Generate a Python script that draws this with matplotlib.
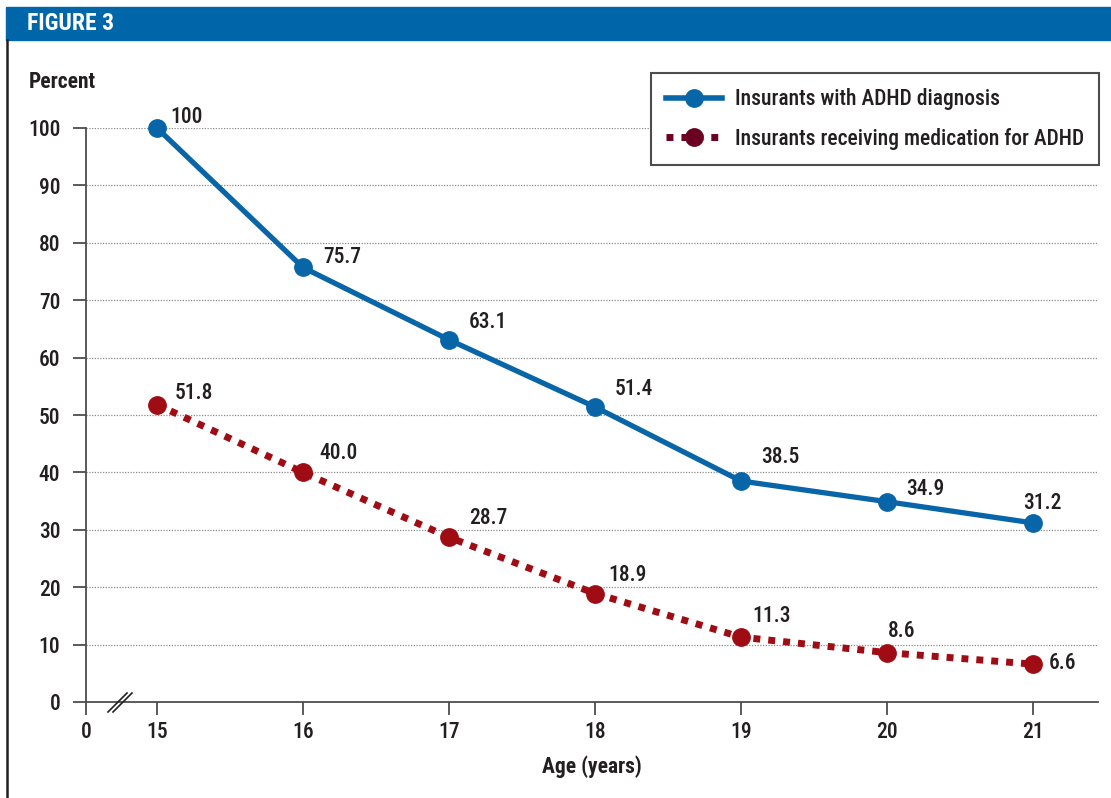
import matplotlib.pyplot as plt
from matplotlib.lines import Line2D
from matplotlib.patches import Rectangle

plt.rcParams['font.family'] = ['Roboto Condensed', 'Liberation Sans Narrow', 'Roboto', 'DejaVu Sans']

ages = [15, 16, 17, 18, 19, 20, 21]
diagnosis = [100, 75.7, 63.1, 51.4, 38.5, 34.9, 31.2]
medication = [51.8, 40.0, 28.7, 18.9, 11.3, 8.6, 6.6]
diag_labels = ["100", "75.7", "63.1", "51.4", "38.5", "34.9", "31.2"]
med_labels = ["51.8", "40.0", "28.7", "18.9", "11.3", "8.6", "6.6"]
yticks = [0, 10, 20, 30, 40, 50, 60, 70, 80, 90, 100]

BLUE = "#0865a8"
RED = "#a00c14"
MAROON = "#6b0022"
TXT = "#231f20"
FS = 15.5

W, H = 1111, 798
fig = plt.figure(figsize=(W / 100, H / 100), dpi=100)

# header bar and left frame line
fig.patches.append(Rectangle((6 / W, 1 - 40 / H), 1 - 6 / W, 33 / H,
                             transform=fig.transFigure, color="#0066aa", zorder=0))
fig.text(27 / W, 1 - 24 / H, "FIGURE 3", color="white", fontsize=17,
         fontweight="bold", va="center", ha="left")
fig.add_artist(Line2D([7 / W, 7 / W], [0, 1 - 40 / H], color="#231f20",
                      lw=1.8, transform=fig.transFigure))

ax = fig.add_axes([86 / W, 1 - 702 / H, (1098 - 86) / W, (702 - 128) / H])

# broken x axis: 0 sits half a year's width to the left of 15
x0 = 15 - 71 / 146
ax.set_xlim(x0, 15 + (1098 - 157) / 146)
ax.set_ylim(0, 100)

for s in ["top", "right"]:
    ax.spines[s].set_visible(False)
for s in ["left", "bottom"]:
    ax.spines[s].set_color("#4d4d4f")
    ax.spines[s].set_linewidth(1.3)

ax.set_yticks(yticks)
ax.set_xticks([x0] + ages)
ax.set_xticklabels(["0"] + [str(a) for a in ages])
ax.tick_params(axis="both", length=9.5, width=1.3, color="#4d4d4f",
               labelsize=FS, labelcolor=TXT, pad=4)
for t in ax.get_xticklabels() + ax.get_yticklabels():
    t.set_fontweight("medium")
ax.tick_params(axis="y", pad=9)

for v in yticks[1:]:
    ax.axhline(v, color="#8a8a8a", lw=0.9, ls=(0, (1, 1.2)), zorder=1)

ax.plot(ages, diagnosis, color=BLUE, lw=3.8, marker="o", ms=12.5,
        clip_on=False, zorder=4)
ax.plot(ages, medication, color=RED, lw=5, ls=(0, (1, 1.15)), marker="o",
        ms=12.5, clip_on=False, zorder=4, dash_capstyle="butt")

# label offsets in pixels (dx, dy) from each point
diag_off = [(30, 11), (39, 10), (39, 18), (39, 18), (39, 24), (38, 13), (9, 20)]
med_off = [(37, 12), (36, 19), (39, 19), (33, 19), (31, 21), (15, 22), (29, 1)]
px = 72 / 100
for x, y, s, (dx, dy) in zip(ages, diagnosis, diag_labels, diag_off):
    ax.annotate(s, (x, y), xytext=(dx * px, dy * px), textcoords="offset points",
                ha="center", va="center", fontsize=FS, fontweight="medium", color=TXT)
for x, y, s, (dx, dy) in zip(ages, medication, med_labels, med_off):
    ax.annotate(s, (x, y), xytext=(dx * px, dy * px), textcoords="offset points",
                ha="center", va="center", fontsize=FS, fontweight="medium", color=TXT)

# axis break marks
for dx in (0, 5):
    fig.add_artist(Line2D([(108 + dx) / W, (127 + dx) / W],
                          [1 - 712 / H, 1 - 693 / H],
                          color="#231f20", lw=1.2, transform=fig.transFigure))

fig.text(29 / W, 1 - 82 / H, "Percent", fontsize=FS, fontweight="bold",
         color=TXT, ha="left", va="center")
fig.text(592 / W, 1 - 767 / H, "Age (years)", fontsize=FS, fontweight="bold",
         color=TXT, ha="center", va="center")

handles = [
    Line2D([], [], color=BLUE, lw=4, marker="o", ms=12.5),
    Line2D([], [], color=MAROON, lw=5, ls=(0, (1, 1.15)), marker="o", ms=12.5),
]
leg = ax.legend(handles, ["Insurants with ADHD diagnosis",
                          "Insurants receiving medication for ADHD"],
                loc="upper right", bbox_to_anchor=(1099 / W, 1 - 73 / H),
                bbox_transform=fig.transFigure, borderaxespad=0, fancybox=False,
                fontsize=FS, handlelength=2.6, labelspacing=0.82,
                borderpad=0.7, handletextpad=0.6, framealpha=1)
leg.get_frame().set_edgecolor("#4d4d4f")
leg.get_frame().set_linewidth(1.5)
for t in leg.get_texts():
    t.set_color(TXT)
    t.set_fontweight("medium")

fig.savefig("out.png", dpi=100)
